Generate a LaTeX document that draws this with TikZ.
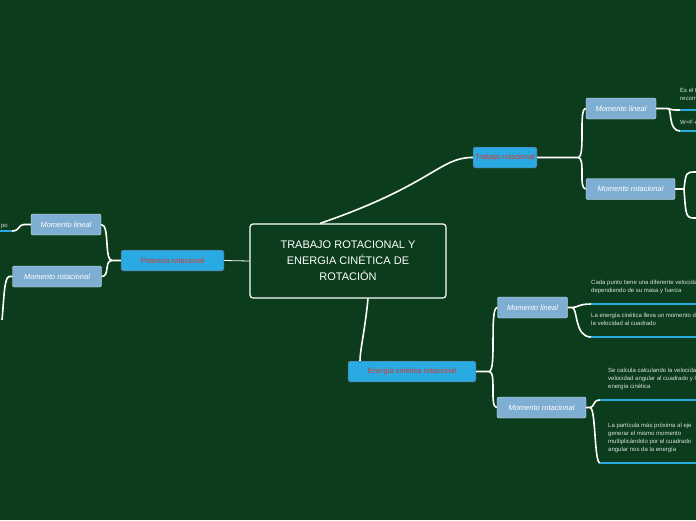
\documentclass[tikz,border=0pt]{standalone}
\usepackage{fontspec}
\setmainfont{Liberation Sans}
\definecolor{bg}{HTML}{0B3D1C}
\definecolor{cy}{HTML}{2AAAE2}
\definecolor{lb}{HTML}{7FAED3}
\definecolor{rd}{HTML}{D8372A}
\begin{document}
\begin{tikzpicture}[x=1pt,y=-1pt,
 main/.style={draw=white,line width=1.2pt,rounded corners=3pt,fill=bg,text=white,font=\fontsize{11}{16}\selectfont,align=center,minimum width=196pt,minimum height=74pt},
 topic/.style={draw=rd!70!black,rounded corners=2pt,fill=cy,text=rd,font=\fontsize{7.5}{8}\selectfont,minimum height=21pt,inner xsep=2pt},
 sub/.style={draw=white!80!lb,rounded corners=2pt,fill=lb,text=white,font=\itshape\fontsize{7.5}{8}\selectfont,minimum height=21pt,inner xsep=2pt},
 txt/.style={text=white!85!bg,font=\fontsize{6}{8}\selectfont,align=left,anchor=north west,inner sep=0pt},
 con/.style={white,line width=1.6pt},
 ul/.style={cy,line width=1.4pt}]
\useasboundingbox (0,0) rectangle (696,520);
\fill[bg] (0,0) rectangle (696,520);
\clip (0,0) rectangle (696,520);
\node[main] (c) at (348,261) {TRABAJO ROTACIONAL Y\\ENERGIA CINÉTICA DE\\ROTACIÓN};
\node[topic,minimum width=64pt] (t) at (505,157.5) {Trabajo rotacional};
\node[topic,minimum width=128pt] (e) at (412,371.5) {Energía cinética rotacional};
\node[topic,minimum width=103pt] (p) at (172.5,260.5) {Potencia rotacional};
\node[sub,minimum width=70pt] (t1) at (621,108.5) {Momento lineal};
\node[sub,minimum width=89pt] (t2) at (630.5,189) {Momento rotacional};
\node[sub,minimum width=70pt] (e1) at (532.5,307.5) {Momento lineal};
\node[sub,minimum width=89pt] (e2) at (541.5,407.5) {Momento rotacional};
\node[sub,minimum width=70pt] (p1) at (66,224.5) {Momento lineal};
\node[sub,minimum width=89pt] (p2) at (57,276.5) {Momento rotacional};
\draw[con] ([xshift=-28pt]c.north) .. controls (432,185) and (440,157) .. (t.west);
\draw[con] ([xshift=20pt]c.south) .. controls (365,330) and (360,350) .. ([xshift=-52pt]e.north);
\draw[white,line width=0.8pt] (c.west) -- (p.east);
% trabajo
\draw[con] (t.east) -- (578,157.5) .. controls (586,157.5) and (578,108.5) .. (t1.west);
\draw[con] (578,157.5) .. controls (586,157.5) and (578,189) .. (t2.west);
\coordinate (a1) at (680,110); \coordinate (a2) at (680,131);
\draw[con] (t1.east) -- (668,108.5) .. controls (672,110) .. (a1);
\draw[con] (668,108.5) .. controls (672,108.5) and (668,131) .. (a2);
\draw[ul] (a1) -- (696,110); \draw[ul] (a2) -- (696,131);
\node[txt] (x1) at (680,88) {Es el trabajo\\recorrido};
\node[txt] (x2) at (680,120) {W=F·d};
\coordinate (b1) at (696,172); \coordinate (b2) at (696,218);
\draw[con] (t2.east) -- (684,189) .. controls (686,172) .. (b1);
\draw[con] (684,189) .. controls (686,218) .. (b2);
% energia
\draw[con] (e.east) -- (489,371.5) .. controls (497,371.5) and (489,307.5) .. (e1.west);
\draw[con] (489,371.5) .. controls (497,371.5) and (489,407.5) .. (e2.west);
\coordinate (m1) at (591,304); \coordinate (m2) at (591,337);
\draw[con] (e1.east) -- (572,307.5) .. controls (578,307.5) and (578,304) .. (m1);
\draw[con] (572,307.5) .. controls (578,307.5) and (574,337) .. (m2);
\draw[ul] (m1) -- (696,304); \draw[ul] (m2) -- (696,337);
\node[txt] at (591,280) {Cada punto tiene una diferente velocidad\\dependiendo de su masa y fuerza};
\node[txt] at (591,313) {La energía cinética lleva un momento de\\la velocidad al cuadrado};
\coordinate (n1) at (600,400); \coordinate (n2) at (600,463);
\draw[con] (e2.east) -- (590,407.5) .. controls (595,407.5) and (592,400) .. (n1);
\draw[con] (590,407.5) .. controls (596,407.5) and (594,463) .. (n2);
\draw[ul] (n1) -- (696,400); \draw[ul] (n2) -- (696,463);
\node[txt] at (608,368) {Se calcula calculando la velocidad\\velocidad angular al cuadrado y la\\energía cinética};
\node[txt] at (608,423) {La partícula más próxima al eje\\generar el mismo momento\\multiplicándolo por el cuadrado\\angular nos da la energía};
% potencia
\draw[con] (p.west) -- (112,260.5) .. controls (104,260.5) and (110,224.5) .. (p1.east);
\draw[con] (112,260.5) .. controls (104,260.5) and (110,276.5) .. (p2.east);
\coordinate (q1) at (12,231);
\draw[con] (p1.west) -- (24,224.5) .. controls (18,224.5) and (20,231) .. (q1);
\draw[ul] (q1) -- (0,231);
\node[txt,anchor=south east] at (8,229) {po};
\coordinate (q2) at (2,320);
\draw[con] (p2.west) -- (9,276.5) .. controls (4,278) and (4,300) .. (q2);
\end{tikzpicture}
\end{document}
